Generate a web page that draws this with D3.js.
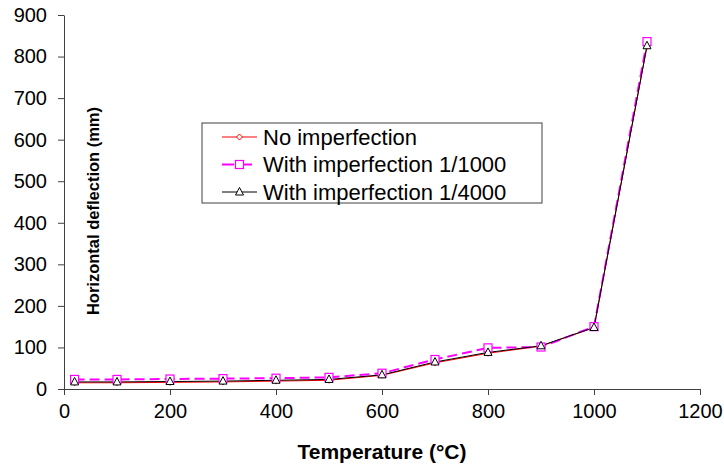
<!DOCTYPE html>
<html>
<head>
<meta charset="utf-8">
<script src="https://cdn.jsdelivr.net/npm/d3@7"></script>
<style>
  body { margin: 0; background: #fff; }
  text { font-family: "Liberation Sans", Arial, sans-serif; }
</style>
</head>
<body>
<svg id="chart" width="724" height="467"></svg>
<script>
// Data
let temperatures = [20, 100, 200, 300, 400, 500, 600, 700, 800, 900, 1000, 1100];
let noImperfection = [15, 15, 16, 17, 19, 21, 33, 63, 86, 103, 148, 825];
let imperfection1000 = [23, 23, 24, 25, 26, 28, 38, 71, 99, 101, 150, 836];
let imperfection4000 = [17, 17, 18, 19, 21, 23, 34, 65, 88, 104, 148, 826];
let xTicks = [0, 200, 400, 600, 800, 1000, 1200];
let yTicks = [0, 100, 200, 300, 400, 500, 600, 700, 800, 900];

let series = [
  {name: "No imperfection", values: noImperfection, color: "#ff0000", width: 1, dash: null, marker: "diamond"},
  {name: "With imperfection 1/1000", values: imperfection1000, color: "#ff00ff", width: 2, dash: "10,5", marker: "square"},
  {name: "With imperfection 1/4000", values: imperfection4000, color: "#000000", width: 1, dash: null, marker: "triangle"}
];

let margin = {top: 15, right: 24, bottom: 78, left: 64};
let width = 724 - margin.left - margin.right;
let height = 467 - margin.top - margin.bottom;

let svg = d3.select("#chart")
  .append("g")
    .attr("transform", `translate(${margin.left}, ${margin.top})`);

let x = d3.scaleLinear().domain([0, 1200]).range([0, width]);
let y = d3.scaleLinear().domain([0, 900]).range([height, 0]);

// Axes
let xAxis = svg.append("g")
  .attr("transform", `translate(0, ${height})`)
  .call(d3.axisBottom(x).tickValues(xTicks).tickFormat(d3.format("d"))
    .tickSize(6).tickPadding(9).tickSizeOuter(0));
let yAxis = svg.append("g")
  .call(d3.axisLeft(y).tickValues(yTicks).tickFormat(d3.format("d"))
    .tickSize(6).tickPadding(11).tickSizeOuter(0));

[xAxis, yAxis].forEach(a => {
  a.select(".domain").attr("stroke", "#404040");
  a.selectAll(".tick line").attr("stroke", "#404040");
  a.selectAll(".tick text")
    .attr("fill", "#000")
    .style("font-size", "20px")
    .style("font-family", "'Liberation Sans', Arial, sans-serif");
});

// Axis titles
svg.append("text")
  .attr("x", 382 - margin.left)
  .attr("y", 459 - margin.top)
  .attr("text-anchor", "middle")
  .style("font-size", "21px")
  .style("font-weight", "bold")
  .text("Temperature (°C)");

svg.append("text")
  .attr("transform", `translate(${93 - margin.left}, ${211 - margin.top}) rotate(-90)`)
  .attr("text-anchor", "middle")
  .attr("dy", "0.35em")
  .style("font-size", "16.5px")
  .style("font-weight", "bold")
  .text("Horizontal deflection (mm)");

// Lines
let line = d3.line()
  .x((d, i) => x(temperatures[i]))
  .y(d => y(d));

series.forEach(s => {
  svg.append("path")
    .datum(s.values)
    .attr("fill", "none")
    .attr("stroke", s.color)
    .attr("stroke-width", s.width)
    .attr("stroke-dasharray", s.dash)
    .attr("d", line);
});

// Markers
function drawMarker(g, type, color, cx, cy) {
  if (type === "diamond") {
    g.append("path")
      .attr("d", `M${cx},${cy - 3}L${cx + 3},${cy}L${cx},${cy + 3}L${cx - 3},${cy}Z`)
      .attr("fill", "#fff").attr("stroke", color).attr("stroke-width", 1);
  } else if (type === "square") {
    g.append("rect")
      .attr("x", cx - 4).attr("y", cy - 4)
      .attr("width", 8).attr("height", 8)
      .attr("fill", "#fff").attr("stroke", color).attr("stroke-width", 1.2);
  } else {
    g.append("path")
      .attr("d", `M${cx},${cy - 4.5}L${cx + 4},${cy + 3}L${cx - 4},${cy + 3}Z`)
      .attr("fill", "#fff").attr("stroke", color).attr("stroke-width", 1);
  }
}

series.forEach(s => {
  let g = svg.append("g");
  s.values.forEach((v, i) => drawMarker(g, s.marker, s.color, x(temperatures[i]), y(v)));
});

// Legend
let legend = svg.append("g")
  .attr("transform", `translate(${202 - margin.left}, ${123 - margin.top})`);

legend.append("rect")
  .attr("width", 340)
  .attr("height", 80)
  .attr("fill", "#fff")
  .attr("stroke", "#404040")
  .attr("stroke-width", 1);

series.forEach((s, i) => {
  let ry = 14 + i * 27.5;
  legend.append("line")
    .attr("x1", 20).attr("x2", 55)
    .attr("y1", ry).attr("y2", ry)
    .attr("stroke", s.color)
    .attr("stroke-width", s.width)
    .attr("stroke-dasharray", s.dash ? "12,6" : null);
  drawMarker(legend, s.marker, s.color, 37.5, ry);
  legend.append("text")
    .attr("x", 61)
    .attr("y", ry)
    .attr("dy", "0.35em")
    .style("font-size", "22px")
    .text(s.name);
});
</script>
</body>
</html>
